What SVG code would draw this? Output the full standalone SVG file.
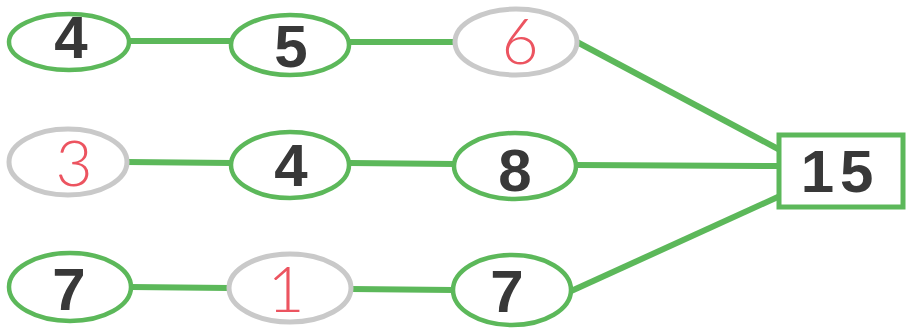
<svg xmlns="http://www.w3.org/2000/svg" width="908" height="331" viewBox="0 0 908 331">
<style>
.g{fill:#fff;stroke:#5cb85a;stroke-width:4.5}
.gr{fill:#fff;stroke:#c9c9c9;stroke-width:5}
.c{stroke:#5cb85a;stroke-width:6;fill:none;stroke-linecap:butt}
.t{font-family:"Liberation Sans",Arial,sans-serif;font-weight:bold;font-size:60px;fill:#383838;text-anchor:middle}
.r{font-family:"Lato","DejaVu Sans",sans-serif;font-weight:300;font-size:64px;fill:#ec5460;text-anchor:middle}
</style>
<rect width="908" height="331" fill="#fff"/>
<g id="connectors">
<line class="c" x1="130" y1="41" x2="232" y2="41"/>
<line class="c" x1="350" y1="42" x2="455" y2="42"/>
<path class="c" d="M577,42 L780,150"/>
<line class="c" x1="127" y1="162" x2="232" y2="163"/>
<line class="c" x1="350" y1="163" x2="455" y2="164"/>
<line class="c" x1="576" y1="165" x2="780" y2="166"/>
<line class="c" x1="131" y1="287" x2="229" y2="288"/>
<line class="c" x1="351" y1="289" x2="453" y2="290"/>
<path class="c" d="M569,292 L780,196"/>
</g>
<g id="n1"><ellipse class="g" cx="69" cy="42" rx="60" ry="28"/><text class="t" x="71" y="58">4</text></g>
<g id="n2"><ellipse class="g" cx="290" cy="45" rx="59" ry="30"/><text class="t" x="291" y="67">5</text></g>
<g id="n3"><ellipse class="gr" cx="516" cy="42" rx="61" ry="33"/><text class="r" x="520" y="64">6</text></g>
<g id="n4"><ellipse class="gr" cx="68" cy="162" rx="59" ry="33"/><text class="r" x="74" y="186">3</text></g>
<g id="n5"><ellipse class="g" cx="290" cy="165" rx="59" ry="33"/><text class="t" x="291" y="186">4</text></g>
<g id="n6"><ellipse class="g" cx="515" cy="166" rx="61" ry="33"/><text class="t" x="515" y="191">8</text></g>
<g id="n7"><ellipse class="g" cx="70" cy="287" rx="61" ry="34"/><text class="t" x="69" y="310">7</text></g>
<g id="n8"><ellipse class="gr" cx="290" cy="288" rx="61" ry="34"/><text class="r" x="286" y="312">1</text></g>
<g id="n9"><ellipse class="g" cx="512" cy="290" rx="59" ry="35"/><text class="t" x="507" y="312">7</text></g>
<g id="total"><rect x="779" y="135" width="124" height="72" fill="#fff" stroke="#5cb85a" stroke-width="5"/><text class="t" x="840" y="192" letter-spacing="6">15</text></g>
</svg>
